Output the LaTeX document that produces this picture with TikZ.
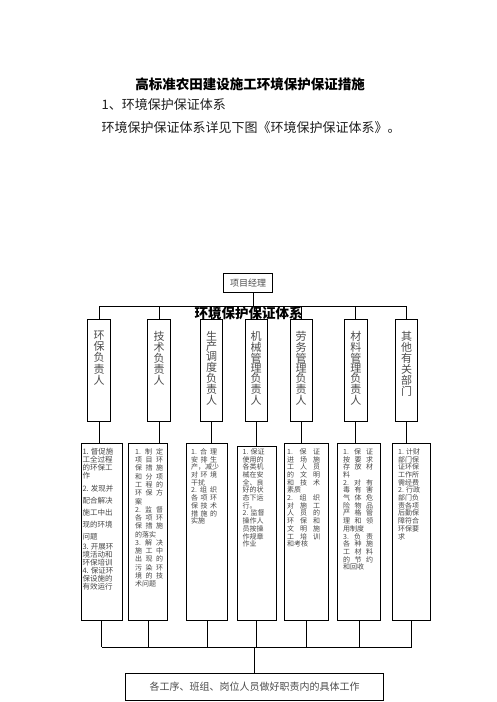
\documentclass[tikz,border=0pt]{standalone}
\usepackage{fontspec}
\setmainfont{Noto Sans CJK SC}
\usetikzlibrary{calc}
\newlength\tw
\newcommand\tri[3]{\hbox to \tw{#1\hfill #2\hfill #3}}
\tikzset{
  ln/.style={line width=0.9pt, black},
  box/.style={draw=black, line width=1pt, inner sep=0pt},
  topbox/.style={box, minimum width=23pt, minimum height=101.7pt, anchor=north},
  botbox/.style={box, minimum height=177pt, anchor=north west},
  toplabel/.style={anchor=north, inner sep=0pt, align=center, text=black!70, font=\fontsize{11}{10}\selectfont},
  botlabel/.style={anchor=north west, inner sep=0pt, align=left, text=black!72, font=\fontsize{7}{7.7}\selectfont},
  head/.style={inner sep=0pt, text=black!88, font=\fontsize{13}{15}\selectfont},
}
\begin{document}
\begin{tikzpicture}[x=1pt,y=-1pt]
\useasboundingbox (0,0) rectangle (496,702);
\fill[white] (0,0) rectangle (496,702);

% headings
\node[inner sep=0pt, font=\fontsize{13.5}{15}\selectfont\bfseries] (title) at (250,84) {高标准农田建设施工环境保护保证措施};
\node[head, anchor=west] (h1) at (101.5,105) {1、环境保护保证体系};
\node[head, anchor=west] (h2) at (101.5,128) {环境保护保证体系详见下图《环境保护保证体系》。};

% project manager
\node[box, anchor=north west, minimum width=49.6pt, minimum height=19.6pt, text=black!70, font=\fontsize{9}{10}\selectfont] (pm) at (222.7,272.7) {项目经理};

% top row boxes
\node[topbox] (t1) at (99,319) {};
\node[topbox] (t2) at (159,319) {};
\node[topbox, minimum width=22pt] (t3) at (211.7,319) {};
\node[topbox, minimum width=22.3pt] (t4) at (256.2,319) {};
\node[topbox, minimum width=22.3pt] (t5) at (301.2,319) {};
\node[topbox] (t6) at (355.8,319) {};
\node[topbox, minimum width=21.6pt] (t7) at (406.5,319) {};

\node[toplabel] (l1) at ($(t1.north)+(0,12)$) {环\\保\\负\\责\\人};
\node[toplabel] (l2) at ($(t2.north)+(0,12)$) {技\\术\\负\\责\\人};
\node[toplabel] (l3) at ($(t3.north)+(0,12)$) {生\\产\\调\\度\\负\\责\\人};
\node[toplabel] (l4) at ($(t4.north)+(0,12)$) {机\\械\\管\\理\\负\\责\\人};
\node[toplabel] (l5) at ($(t5.north)+(0,12)$) {劳\\务\\管\\理\\负\\责\\人};
\node[toplabel] (l6) at ($(t6.north)+(0,12)$) {材\\料\\管\\理\\负\\责\\人};
\node[toplabel] (l7) at ($(t7.north)+(0,12)$) {其\\他\\有\\关\\部\\门};

% bottom row boxes
\node[botbox, minimum width=41.2pt] (b1) at (80.5,443) {};
\node[botbox, minimum width=38.7pt] (b2) at (128.3,443) {};
\node[botbox, minimum width=41.3pt] (b3) at (186,443) {};
\node[botbox, minimum width=39.3pt, minimum height=174pt] (b4) at (236.7,446) {};
\node[botbox, minimum width=43.7pt] (b5) at (284,443) {};
\node[botbox, minimum width=42.7pt] (b6) at (337.3,443) {};
\node[botbox, minimum width=37.7pt] (b7) at (392.3,443) {};

\node[botlabel, font=\fontsize{7.5}{8}\selectfont] (x1) at (82.3,448.3) {1. 督促施\\工全过程\\的环保工\\作\\[4.3pt]2. 发现并\\[4pt]配合解决\\[4pt]施工中出\\[4pt]现的环境\\[4pt]问题\\[2pt]3. 开展环\\境活动和\\环保培训\\4. 保证环\\保设施的\\有效运行};
\node[botlabel, font=\fontsize{7}{8.27}\selectfont] (x2) at (135,448.3) {\global\tw=28pt\relax\tri{1.}{制}{定}\\\tri{项}{目}{环}\\\tri{保}{措}{施}\\\tri{和}{分}{项}\\\tri{工}{程}{的}\\\tri{环}{保}{方}\\案\\\tri{2.}{监}{督}\\\tri{各}{项}{环}\\\tri{保}{措}{施}\\的落实\\\tri{3.}{解}{决}\\\tri{施}{工}{中}\\\tri{出}{现}{的}\\\tri{污}{染}{环}\\\tri{境}{的}{技}\\术问题};
\node[botlabel] (x3) at (191,448.3) {\global\tw=26pt\relax\tri{1.}{合}{理}\\\tri{安}{排}{生}\\\hbox to \tw{产，减\hfill 少}\\\tri{对}{环}{境}\\干扰\\\tri{2.}{组}{织}\\\tri{各}{项}{环}\\\tri{保}{技}{术}\\\tri{措}{施}{的}\\实施};
\node[botlabel] (x4) at (242.5,448.3) {1. 保证\\使用的\\各类机\\械在安\\全、良\\好的状\\态下运\\行。\\2. 监督\\操作人\\员按操\\作规章\\作业};
\node[botlabel] (x5) at (287,448.3) {\global\tw=33pt\relax\tri{1.}{保}{证}\\\tri{进}{场}{施}\\\tri{工}{人}{员}\\\tri{的}{文}{明}\\\tri{和}{技}{术}\\素质\\\tri{2.}{组}{织}\\\tri{对}{施}{工}\\\tri{人}{员}{的}\\\tri{环}{保}{和}\\\tri{文}{明}{施}\\\tri{工}{培}{训}\\和考核};
\node[botlabel] (x6) at (343,448.3) {\global\tw=30pt\relax\tri{1.}{保}{证}\\\tri{按}{要}{求}\\\tri{存}{放}{材}\\料\\\tri{2.}{对}{有}\\\tri{毒}{有}{害}\\\tri{气}{体}{危}\\\tri{险}{物}{品}\\\tri{严}{格}{管}\\\tri{理}{和}{领}\\用制度\\\tri{3.}{负}{责}\\\tri{各}{种}{施}\\\tri{工}{材}{料}\\\tri{的}{节}{约}\\和回收};
\node[botlabel] (x7) at (398,448.3) {1. 计财\\部门保\\证环保\\工作所\\需经费\\2. 行政\\部门负\\责各项\\后勤保\\障符合\\环保要\\求};

% final box
\node[box, anchor=north west, minimum width=258.3pt, minimum height=27pt, text=black!70, font=\fontsize{10}{12}\selectfont] (fin) at (125,673) {各工序、班组、岗位人员做好职责内的具体工作};

% connectors
\coordinate (bus1) at (0,306);
\coordinate (bus2) at (0,647);
\draw[ln] ($(pm.south)+(5.8,0)$) -- ($(pm.south |- bus1)+(5.8,0)$);
\draw[ln] (t1.north |- bus1) -- (t7.north |- bus1);
\foreach \k in {1,...,7}{
  \draw[ln] (t\k.north |- bus1) -- (t\k.north);
  \draw[ln] (t\k.south) -- (t\k.south |- b\k.north);
  \draw[ln] (b\k.south) -- (b\k.south |- bus2);
}
\draw[ln] (b1.south |- bus2) -- (b7.south |- bus2);
\draw[ln] (fin.north |- bus2) -- (fin.north);

% overlay caption
\node[inner sep=0pt, font=\fontsize{13.5}{15}\selectfont\bfseries] (cap) at (248.5,313.5) {环境保护保证体系};
\end{tikzpicture}
\end{document}
